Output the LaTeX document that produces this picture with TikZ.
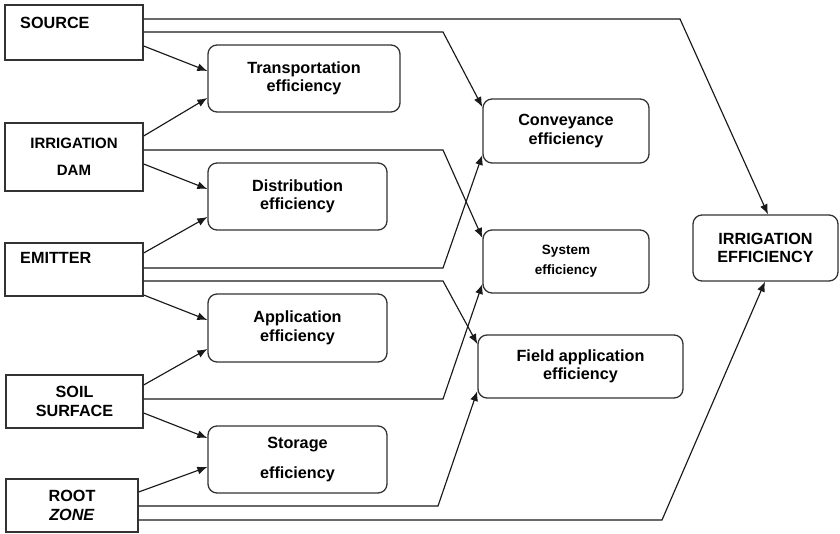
\documentclass[tikz,border=0pt]{standalone}
\usepackage{fontspec}
\setmainfont{Liberation Sans}
\usetikzlibrary{arrows.meta}
\newcommand{\fsz}{\fontsize{16.2}{18.5}\selectfont}
\begin{document}
\begin{tikzpicture}[x=1pt,y=-1pt,
  box/.style={draw=black!80, line width=1.3pt, inner sep=0pt, font=\fsz\bfseries, align=center},
  sq/.style={box},
  rbox/.style={box, rounded corners=9pt},
  conn/.style={draw=black!90, line width=1.15pt, -{Latex[length=10pt,width=8pt]}},
  txt/.style={inner sep=0pt, font=\fsz\bfseries}]
\useasboundingbox (0,0) rectangle (840,534);
% left column
\node[sq, minimum width=138pt, minimum height=55pt] (src) at (74,32.5) {};
\node[txt, anchor=west] (srcT) at (20,23) {SOURCE};
\node[sq, minimum width=138pt, minimum height=68pt, font=\fontsize{15}{27}\selectfont\bfseries] (dam) at (74,157) {IRRIGATION\\DAM};
\node[sq, minimum width=138pt, minimum height=53pt] (emi) at (74,269.5) {};
\node[txt, anchor=west] (emiT) at (20,258) {EMITTER};
\node[sq, minimum width=137pt, minimum height=53pt] (soil) at (74.5,401.5) {SOIL\\SURFACE};
\node[sq, minimum width=132pt, minimum height=53pt] (root) at (72,505.5) {ROOT\\\textit{ZONE}};
% second column
\node[rbox, minimum width=192pt, minimum height=67pt] (trans) at (304,78.5) {Transportation\\efficiency};
\node[rbox, minimum width=179pt, minimum height=67pt] (dist) at (297.5,196.5) {Distribution\\efficiency};
\node[rbox, minimum width=179pt, minimum height=68pt] (appl) at (297.5,328) {Application\\efficiency};
\node[rbox, minimum width=179pt, minimum height=67pt] (stor) at (297.5,459.5) {Storage\\[12pt]efficiency};
% third column
\node[rbox, minimum width=166pt, minimum height=64pt] (conv) at (566,131) {Conveyance\\efficiency};
\node[rbox, minimum width=166pt, minimum height=63pt, font=\fontsize{13.5}{20}\selectfont\bfseries] (sys) at (566,261.5) {System\\efficiency};
\node[rbox, minimum width=205pt, minimum height=63pt] (field) at (580.5,366.5) {Field application\\efficiency};
% result
\node[rbox, minimum width=145pt, minimum height=66pt] (irr) at (765.5,248) {IRRIGATION\\EFFICIENCY};
% connectors: SOURCE
\draw[conn] (src.east |- 0,19) -- (680,19) -- (768,0 |- irr.north);
\draw[conn] (src.east |- 0,32) -- (443,32) -- (conv.west |- 0,107);
\draw[conn] (src.east |- 0,46) -- (trans.west |- 0,71);
% IRRIGATION DAM
\draw[conn] (dam.east |- 0,136) -- (trans.west |- 0,98);
\draw[conn] (dam.east |- 0,150) -- (443,150) -- (sys.west |- 0,238);
\draw[conn] (dam.east |- 0,164) -- (dist.west |- 0,189);
% EMITTER
\draw[conn] (emi.east |- 0,253) -- (dist.west |- 0,217);
\draw[conn] (emi.east |- 0,268) -- (443,268) -- (conv.west |- 0,155);
\draw[conn] (emi.east |- 0,281) -- (443,281) -- (field.west |- 0,344);
\draw[conn] (emi.east |- 0,295) -- (appl.west |- 0,320);
% SOIL SURFACE
\draw[conn] (soil.east |- 0,385) -- (appl.west |- 0,349);
\draw[conn] (soil.east |- 0,399) -- (443,399) -- (sys.west |- 0,284);
\draw[conn] (soil.east |- 0,413) -- (stor.west |- 0,438);
% ROOT ZONE
\draw[conn] (root.east |- 0,492) -- (stor.west |- 0,467);
\draw[conn] (root.east |- 0,506) -- (438,506) -- (field.west |- 0,391);
\draw[conn] (root.east |- 0,520) -- (662,520) -- (765,0 |- irr.south);
\end{tikzpicture}
\end{document}
